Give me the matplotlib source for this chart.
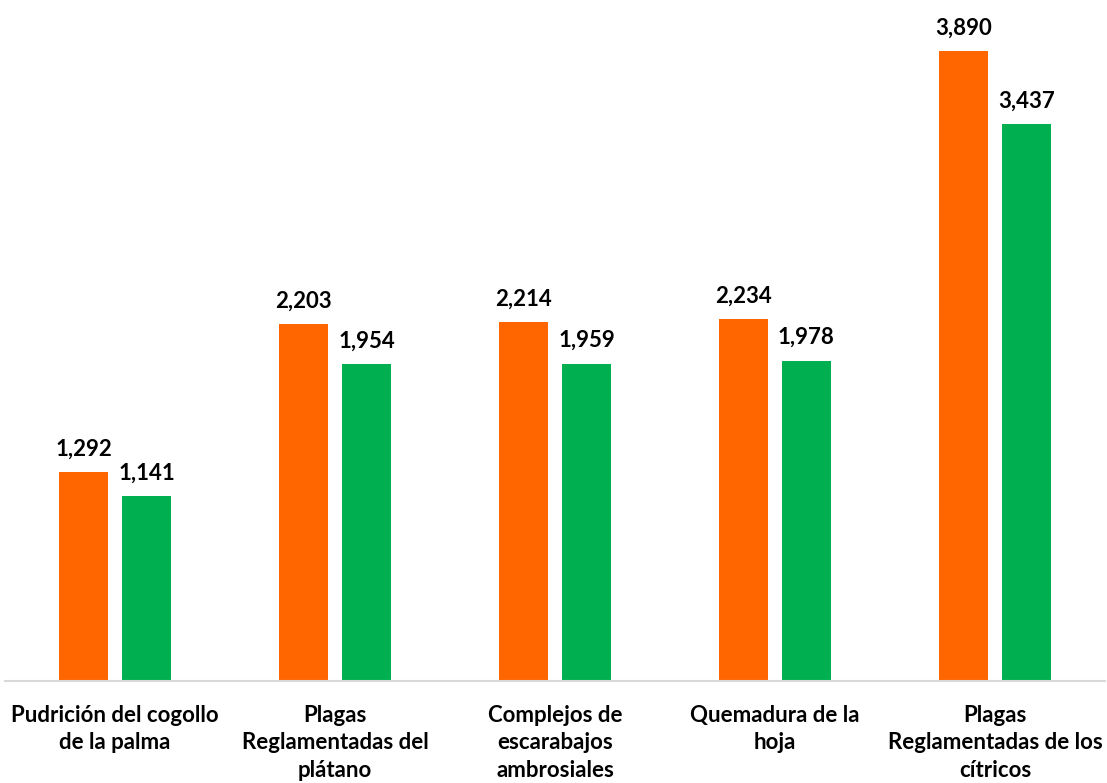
import numpy as np
import matplotlib.pyplot as plt

plt.rcParams['font.family'] = ['Lato', 'DejaVu Sans']

categories = ['Pudrición del cogollo\nde la palma',
              'Plagas\nReglamentadas del\nplátano',
              'Complejos de\nescarabajos\nambrosiales',
              'Quemadura de la\nhoja',
              'Plagas\nReglamentadas de los\ncítricos']
serie_naranja = [1292, 2203, 2214, 2234, 3890]
serie_verde = [1141, 1954, 1959, 1978, 3437]

ORANGE = '#FF6600'
GREEN = '#00B050'

fig = plt.figure(figsize=(11.07, 7.83), dpi=100)
ax = fig.add_axes([5 / 1107, 1 - 681 / 783, 1100 / 1107, 681 / 783])

x = np.arange(len(categories))
width = 0.223
off = 0.143

bars1 = ax.bar(x - off, serie_naranja, width, color=ORANGE)
bars2 = ax.bar(x + off, serie_verde, width, color=GREEN)

for bars in (bars1, bars2):
    for b in bars:
        ax.annotate(f'{int(b.get_height()):,}',
                    (b.get_x() + b.get_width() / 2, b.get_height()),
                    xytext=(0, 9), textcoords='offset points',
                    ha='center', va='bottom', fontsize=16, fontweight='bold')

ax.set_xlim(-0.5, len(categories) - 0.5)
ax.set_ylim(0, 4204)
ax.set_xticks(x)
ax.set_xticklabels(categories, fontsize=16, fontweight='bold', linespacing=1.38)
ax.tick_params(axis='x', length=0, pad=17)
ax.set_yticks([])
for s in ['top', 'right', 'left']:
    ax.spines[s].set_visible(False)
ax.spines['bottom'].set_color('#D9D9D9')
ax.spines['bottom'].set_linewidth(1.5)

plt.savefig('out.png', dpi=100)
